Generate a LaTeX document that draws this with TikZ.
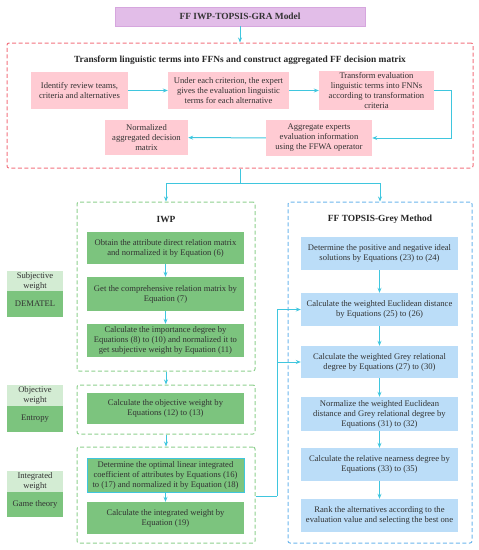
\documentclass[tikz,border=0pt]{standalone}
\usepackage{fontspec}
\setmainfont{Liberation Serif}
\usetikzlibrary{arrows.meta}
\definecolor{cyanline}{HTML}{3FC6DE}
\definecolor{pinkfill}{HTML}{FFCBD3}
\definecolor{purplefill}{HTML}{E2BDE8}
\definecolor{purpleline}{HTML}{D6A6DE}
\definecolor{greenfill}{HTML}{7CC47E}
\definecolor{lightgreen}{HTML}{D3ECD3}
\definecolor{bluefill}{HTML}{BBDDF8}
\definecolor{reddash}{HTML}{F2727E}
\definecolor{greendash}{HTML}{8ED08E}
\definecolor{bluedash}{HTML}{6CB6EC}
\definecolor{txt}{HTML}{333333}
\tikzset{
  box/.style={rectangle, align=center, inner sep=1pt, text=txt,
    font=\fontsize{8.6}{10}\selectfont},
  pinkbox/.style={box, fill=pinkfill},
  greenbox/.style={box, fill=greenfill},
  bluebox/.style={box, fill=bluefill},
  lgbox/.style={box, fill=lightgreen},
  container/.style={rectangle, draw, line width=1pt, dash pattern=on 4pt off 2.5pt, rounded corners=2pt},
  ttl/.style={font=\bfseries\fontsize{9.4}{11}\selectfont, text=black!85},
  arr/.style={draw=cyanline, line width=1pt, -{Stealth[length=5pt,width=4pt]}},
  ln/.style={draw=cyanline, line width=1pt},
}
\begin{document}
\begin{tikzpicture}[x=1pt,y=-1pt]
\useasboundingbox (0,0) rectangle (479,550);
% title
\node[box, fill=purplefill, draw=purpleline, line width=0.5pt, minimum width=250, minimum height=19, font=\bfseries\fontsize{9.4}{11}\selectfont] (title) at (240,16.5) {FF IWP-TOPSIS-GRA Model};
% red container
\node[container, draw=reddash, minimum width=466, minimum height=125] (red) at (240,105.5) {};
\node[ttl] (redt) at (240,60) {Transform linguistic terms into FFNs and construct aggregated FF decision matrix};
\node[pinkbox, minimum width=97, minimum height=37] (A) at (79.5,90.5) {Identify review teams,\\criteria and alternatives};
\node[pinkbox, minimum width=121, minimum height=37] (B) at (228.5,90.5) {Under each criterion, the expert\\gives the evaluation linguistic\\terms for each alternative};
\node[pinkbox, minimum width=115, minimum height=37] (C) at (376.5,90.5) {Transform evaluation\\linguistic terms into FNNs\\according to transformation\\criteria};
\node[pinkbox, minimum width=106, minimum height=36] (D) at (319,138) {Aggregate experts\\evaluation information\\using the FFWA operator};
\node[pinkbox, minimum width=83, minimum height=35] (E) at (146.5,137.5) {Normalized\\aggregated decision\\matrix};
\coordinate (cx) at (451,0);
\draw[arr] (title.south) -- (red.north);
\draw[arr] (A) -- (B);
\draw[arr] (B) -- (C);
\draw[arr] (C.east) -- (C.east -| cx) |- (D.east);
\draw[arr] (D) -- (E);
% IWP container
\node[container, draw=greendash, minimum width=178, minimum height=169] (iwp) at (166,286.5) {};
\node[ttl] (iwpt) at (166,219) {IWP};
\node[greenbox, minimum width=157, minimum height=32] (G1) at (165.5,248) {Obtain the attribute direct relation matrix\\and normalized it by Equation (6)};
\node[greenbox, minimum width=157, minimum height=34] (G2) at (165.5,294) {Get the comprehensive relation matrix by\\Equation (7)};
\node[greenbox, minimum width=157, minimum height=33] (G3) at (165.5,340.5) {Calculate the importance degree by\\Equations (8) to (10) and normalized it to\\get subjective weight by Equation (11)};
\draw[arr] (G1) -- (G2);
\draw[arr] (G2) -- (G3);
% objective container
\node[container, draw=greendash, minimum width=178, minimum height=49] (obj) at (166,409.5) {};
\node[greenbox, minimum width=157, minimum height=31] (G4) at (165.5,408.5) {Calculate the objective weight by\\Equations (12) to (13)};
\draw[arr] (iwp.south) -- (obj.north);
% integrated container
\node[container, draw=greendash, minimum width=178, minimum height=96] (integ) at (166,495) {};
\node[greenbox, draw=cyanline, line width=1pt, minimum width=157, minimum height=34] (G5) at (165.5,475) {Determine the optimal linear integrated\\coefficient of attributes by Equations (16)\\to (17) and normalized it by Equation (18)};
\node[greenbox, minimum width=157, minimum height=32] (G6) at (165.5,518) {Calculate the integrated weight by\\Equation (19)};
\draw[arr] (obj.south) -- (integ.north);
\draw[arr] (G5) -- (G6);
% blue container
\node[container, draw=bluedash, minimum width=184, minimum height=341] (blue) at (380,372.5) {};
\node[ttl] (bluet) at (380,219) {FF TOPSIS-Grey Method};
\node[bluebox, minimum width=157, minimum height=33] (B1) at (379.5,253.5) {Determine the positive and negative ideal\\solutions by Equations (23) to (24)};
\node[bluebox, minimum width=157, minimum height=33] (B2) at (379.5,309.5) {Calculate the weighted Euclidean distance\\by Equations (25) to (26)};
\node[bluebox, minimum width=157, minimum height=32] (B3) at (379.5,362) {Calculate the weighted Grey relational\\degree by Equations (27) to (30)};
\node[bluebox, minimum width=157, minimum height=34] (B4) at (379.5,414) {Normalize the weighted Euclidean\\distance and Grey relational degree by\\Equations (31) to (32)};
\node[bluebox, minimum width=157, minimum height=33] (B5) at (379.5,464.5) {Calculate the relative nearness degree by\\Equations (33) to (35)};
\node[bluebox, minimum width=157, minimum height=33] (B6) at (379.5,515.5) {Rank the alternatives according to the\\evaluation value and selecting the best one};
\draw[arr] (B1) -- (B2);
\draw[arr] (B2) -- (B3);
\draw[arr] (B3) -- (B4);
\draw[arr] (B4) -- (B5);
\draw[arr] (B5) -- (B6);
% fork from red container
\coordinate (fork) at (240,183);
\draw[ln] (red.south) -- (fork);
\draw[arr] (fork) -| (iwp.north);
\draw[arr] (fork) -| (blue.north);
% integrated to blue
\coordinate (j) at (277,496);
\draw[ln] (integ.east |- j) -- (j);
\draw[arr] (j) |- (B2.west);
\draw[arr] (j |- B3.west) -- (B3.west);
% left labels
\node[lgbox, minimum width=56, minimum height=20] (sw) at (35,281) {Subjective\\weight};
\node[greenbox, minimum width=56, minimum height=26] (dem) at (35,304) {DEMATEL};
\node[lgbox, minimum width=56, minimum height=21] (ow) at (35,395.5) {Objective\\weight};
\node[greenbox, minimum width=56, minimum height=26] (ent) at (35,419) {Entropy};
\node[lgbox, minimum width=56, minimum height=21] (iw) at (35,481.5) {Integrated\\weight};
\node[greenbox, minimum width=56, minimum height=25] (gt) at (35,504.5) {Game theory};
\end{tikzpicture}
\end{document}
